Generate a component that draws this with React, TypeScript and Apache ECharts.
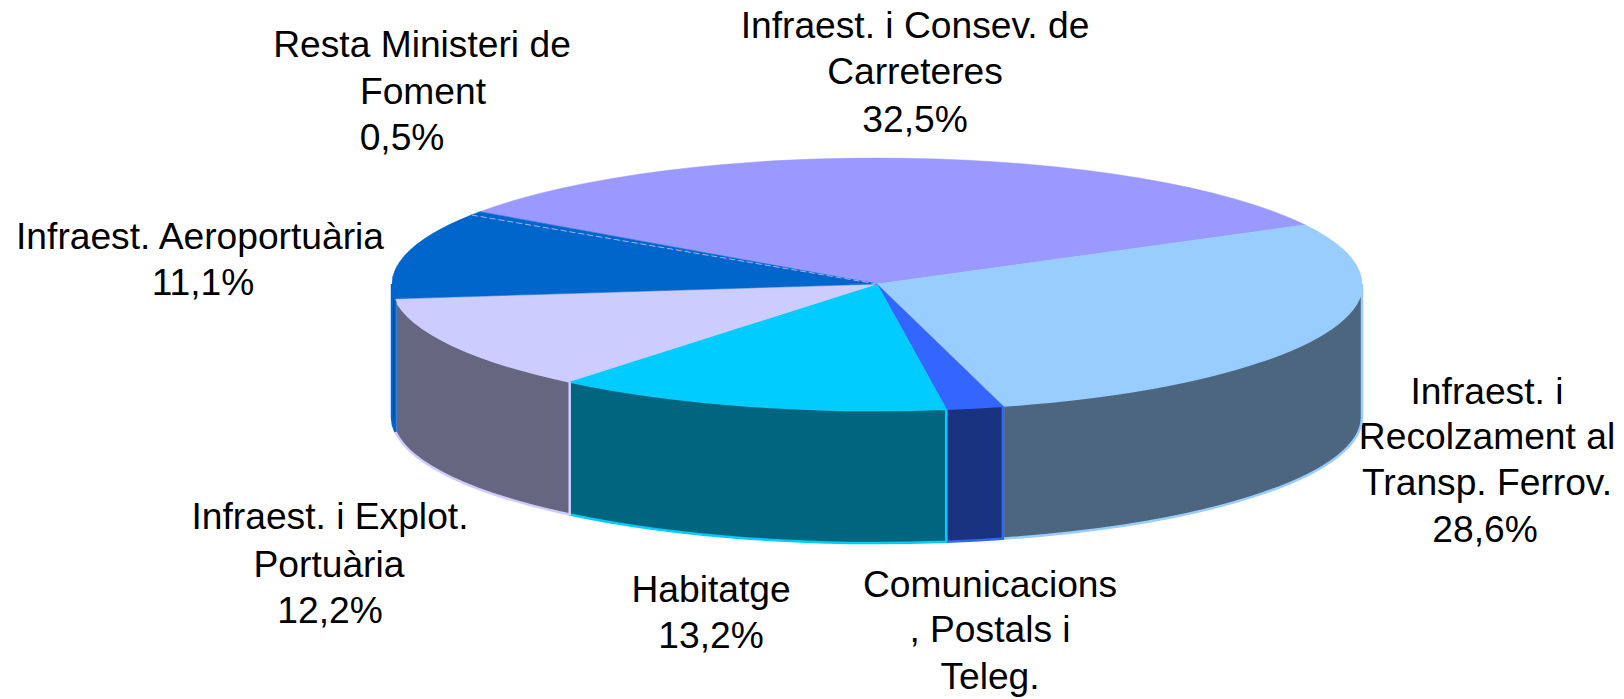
import React, { useEffect, useRef } from "react";
import * as echarts from "echarts";

const categories = [
  "Infraest. i Consev. de Carreteres",
  "Infraest. i Recolzament al Transp. Ferrov.",
  "Comunicacions, Postals i Teleg.",
  "Habitatge",
  "Infraest. i Explot. Portuària",
  "Infraest. Aeroportuària",
  "Resta Ministeri de Foment",
];
const shares = [32.5, 28.6, 1.9, 13.2, 12.2, 11.1, 0.5];
const topColors = ["#9999FF", "#99CCFF", "#3366FF", "#00CCFF", "#CCCCFF", "#0066CC", "#0066CC"];
const sideColors = ["#4D4D80", "#4D6680", "#1A3380", "#006680", "#666680", "#003366", "#003366"];
const labelLines = [
  ["Infraest. i Consev. de", "Carreteres", "32,5%"],
  ["Infraest. i", "Recolzament al", "Transp. Ferrov.", "28,6%"],
  ["Comunicacions", ", Postals i", "Teleg."],
  ["Habitatge", "13,2%"],
  ["Infraest. i Explot.", "Portuària", "12,2%"],
  ["Infraest. Aeroportuària", "11,1%"],
  ["Resta Ministeri de", "Foment", "0,5%"],
];

// layout
const W = 1624;
const H = 699;
const CX = 877;
const CY = 284;
const RX = 485;
const RY = 126;
const DEPTH = 133;
const START = 305;
const FONT_SIZE = 37.2;
const labelPositions = [
  [[915, 25], [915, 71], [915, 119]],
  [[1487, 391], [1487, 436], [1487, 482], [1485, 529]],
  [[990, 584], [990, 629], [990, 676]],
  [[711, 589], [711, 635]],
  [[330, 516], [329, 564], [330, 610]],
  [[200, 236], [203, 282]],
  [[422, 44], [423, 91], [402, 137]],
];

const total = shares.reduce((s, v) => s + v, 0);
const rad = (d: number) => (d * Math.PI) / 180;
const px = (t: number) => CX + RX * Math.sin(rad(t));
const py = (t: number) => CY - RY * Math.cos(rad(t));

function sliceRange(i: number): [number, number] {
  let before = 0;
  for (let k = 0; k < i; k++) before += shares[k];
  const a = START + (before / total) * 360;
  return [a, a + (shares[i] / total) * 360];
}

function topPath(a: number, b: number) {
  const large = b - a > 180 ? 1 : 0;
  return `M ${CX} ${CY} L ${px(a)} ${py(a)} A ${RX} ${RY} 0 ${large} 1 ${px(b)} ${py(b)} Z`;
}

function sidePath(a: number, b: number) {
  return (
    `M ${px(a)} ${py(a)} A ${RX} ${RY} 0 0 1 ${px(b)} ${py(b)} ` +
    `L ${px(b)} ${py(b) + DEPTH} A ${RX} ${RY} 0 0 0 ${px(a)} ${py(a) + DEPTH} Z`
  );
}

const renderSide = (params: any) => {
  const [a, b] = sliceRange(params.dataIndex);
  const from = Math.max(a, 450);
  const to = Math.min(b, 630);
  if (to <= from) return { type: "group", children: [] };
  return {
    type: "path",
    shape: { pathData: sidePath(from, to) },
    style: {
      fill: sideColors[params.dataIndex],
      stroke: topColors[params.dataIndex],
      lineWidth: 2.5,
      lineJoin: "miter",
    },
  };
};

const renderTop = (params: any) => {
  const i = params.dataIndex;
  const [a, b] = sliceRange(i);
  return {
    type: "path",
    shape: { pathData: topPath(a, b) },
    style: { fill: topColors[i], stroke: topColors[i], lineWidth: 0.5 },
  };
};

// A small hairline marks the narrow slice's leading edge
const renderEdge = (params: any) => {
  const i = params.dataIndex;
  if (shares[i] >= 1) return { type: "group", children: [] };
  const [a] = sliceRange(i);
  return {
    type: "line",
    shape: { x1: CX, y1: CY, x2: px(a), y2: py(a) },
    style: { stroke: "#9FB4E8", lineWidth: 1, lineDash: [6, 3] },
  };
};

export default function App() {
  const ref = useRef<HTMLDivElement>(null);
  useEffect(() => {
    const chart = echarts.init(ref.current!, null, { renderer: "svg" });
    const data = shares.map((v, i) => ({ name: categories[i], value: v }));
    const texts: any[] = [];
    labelLines.forEach((lines, i) =>
      lines.forEach((line, j) =>
        texts.push({
          type: "text",
          x: labelPositions[i][j][0],
          y: labelPositions[i][j][1],
          style: {
            text: line,
            fill: "#000000",
            font: `${FONT_SIZE}px "Liberation Sans", Arial, sans-serif`,
            align: "center",
            verticalAlign: "middle",
          },
        }),
      ),
    );
    chart.setOption({
      animation: false,
      backgroundColor: "#ffffff",
      graphic: { elements: texts },
      series: [
        { type: "custom", coordinateSystem: "none", renderItem: renderSide, data, z: 1, silent: true },
        { type: "custom", coordinateSystem: "none", renderItem: renderTop, data, z: 2, silent: true },
        { type: "custom", coordinateSystem: "none", renderItem: renderEdge, data, z: 3, silent: true },
      ],
    });
    return () => chart.dispose();
  }, []);
  return <div ref={ref} style={{ position: "fixed", left: 0, top: 0, width: W, height: H }} />;
}
